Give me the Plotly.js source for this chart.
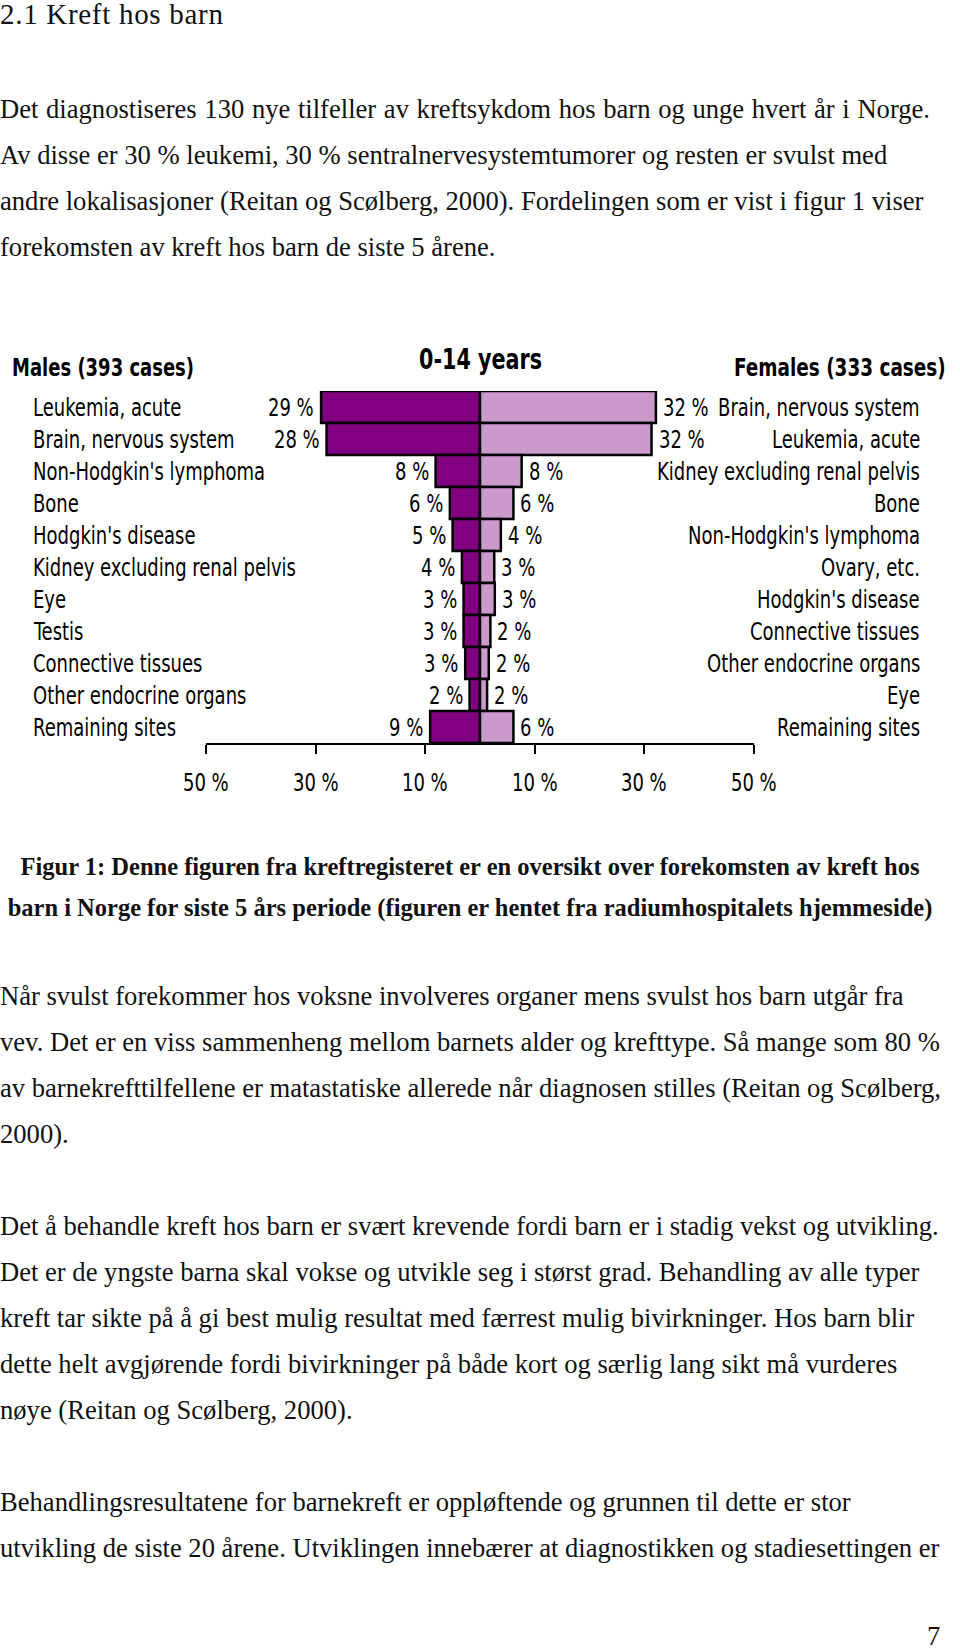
<!DOCTYPE html>
<html>
<head>
<meta charset="utf-8">
<script src="https://cdn.plot.ly/plotly-3.0.1.min.js"></script>
<style>
  html, body { margin:0; padding:0; background:#fff; }
  body { width:960px; height:1648px; position:relative; overflow:hidden; color:#111; }
  .t { position:absolute; left:0; font-family:"Liberation Serif","Times New Roman",serif; white-space:nowrap; }
  .body { font-size:26.6px; line-height:46px; }
  .line { display:block; }
  #chart { position:absolute; left:0; top:279px; width:960px; height:552px; }
  .cap { font-size:24.5px; line-height:41px; font-weight:bold; width:960px; text-align:center; }
  #chart .annotation-text { transform-box: fill-box; transform-origin: center; transform: scaleY(1.22); }
</style>
</head>
<body>
<div class="t" style="top:0px;font-size:29px;line-height:29px;letter-spacing:0.7px;">2.1 Kreft hos barn</div>

<div class="t body" style="top:86px;">
<span class="line" style="word-spacing:1px;">Det diagnostiseres 130 nye tilfeller av kreftsykdom hos barn og unge hvert år i Norge.</span>
<span class="line">Av disse er 30 % leukemi, 30 % sentralnervesystemtumorer og resten er svulst med</span>
<span class="line">andre lokalisasjoner (Reitan og Scølberg, 2000). Fordelingen som er vist i figur 1 viser</span>
<span class="line">forekomsten av kreft hos barn de siste 5 årene.</span>
</div>

<div id="chart"></div>

<div class="t cap" style="top:846px;left:-10px;">
<span class="line">Figur 1: Denne figuren fra kreftregisteret er en oversikt over forekomsten av kreft hos</span>
<span class="line">barn i Norge for siste 5 års periode (figuren er hentet fra radiumhospitalets hjemmeside)</span>
</div>

<div class="t body" style="top:973px;">
<span class="line">Når svulst forekommer hos voksne involveres organer mens svulst hos barn utgår fra</span>
<span class="line">vev. Det er en viss sammenheng mellom barnets alder og krefttype. Så mange som 80 %</span>
<span class="line">av barnekrefttilfellene er matastatiske allerede når diagnosen stilles (Reitan og Scølberg,</span>
<span class="line">2000).</span>
<span class="line">&nbsp;</span>
<span class="line">Det å behandle kreft hos barn er svært krevende fordi barn er i stadig vekst og utvikling.</span>
<span class="line">Det er de yngste barna skal vokse og utvikle seg i størst grad. Behandling av alle typer</span>
<span class="line">kreft tar sikte på å gi best mulig resultat med færrest mulig bivirkninger. Hos barn blir</span>
<span class="line">dette helt avgjørende fordi bivirkninger på både kort og særlig lang sikt må vurderes</span>
<span class="line">nøye (Reitan og Scølberg, 2000).</span>
<span class="line">&nbsp;</span>
<span class="line">Behandlingsresultatene for barnekreft er oppløftende og grunnen til dette er stor</span>
<span class="line">utvikling de siste 20 årene. Utviklingen innebærer at diagnostikken og stadiesettingen er</span>
</div>

<div class="t" style="top:1625px;left:927px;font-size:26.6px;line-height:22px;">7</div>

<script>
// ---- data ----
const chartTitle = "0-14 years";
const maleHeader = "Males (393 cases)";
const femaleHeader = "Females (333 cases)";

const maleCats = ["Leukemia, acute", "Brain, nervous system", "Non-Hodgkin's lymphoma", "Bone",
  "Hodgkin's disease", "Kidney excluding renal pelvis", "Eye", "Testis",
  "Connective tissues", "Other endocrine organs", "Remaining sites"];
const malePct = [29, 28, 8, 6, 5, 4, 3, 3, 3, 2, 9];
const maleBar = [29.0, 28.0, 8.1, 5.5, 5.0, 3.3, 3.0, 3.0, 2.7, 1.9, 9.1];

const femaleCats = ["Brain, nervous system", "Leukemia, acute", "Kidney excluding renal pelvis", "Bone",
  "Non-Hodgkin's lymphoma", "Ovary, etc.", "Hodgkin's disease", "Connective tissues",
  "Other endocrine organs", "Eye", "Remaining sites"];
const femalePct = [32, 32, 8, 6, 4, 3, 3, 2, 2, 2, 6];
const femaleBar = [32.1, 31.3, 7.6, 6.1, 3.8, 2.6, 2.7, 1.9, 1.6, 1.3, 6.1];

const tickVals = [-50, -30, -10, 10, 30, 50];
const tickText = ["50 %", "30 %", "10 %", "10 %", "30 %", "50 %"];

// ---- chart ----
const FONT = '"DejaVu Sans Condensed", "DejaVu Sans", sans-serif';
const rows = maleCats.map((_, i) => i);

const traces = [
  { type: 'bar', orientation: 'h', y: rows, x: maleBar.map(v => -v), width: 1,
    marker: { color: '#800080', line: { color: '#000', width: 2.5 } }, hoverinfo: 'skip' },
  { type: 'bar', orientation: 'h', y: rows, x: femaleBar, width: 1,
    marker: { color: '#cc99cc', line: { color: '#000', width: 2.5 } }, hoverinfo: 'skip' }
];

const ann = [];
const lab = { family: FONT, size: 20, color: '#000' };
rows.forEach(i => {
  ann.push({ xref: 'paper', yref: 'y', x: -0.3157, y: i, xshift: -2, text: maleCats[i], showarrow: false,
    xanchor: 'left', yanchor: 'middle', font: lab });
  ann.push({ xref: 'paper', yref: 'y', x: 1.3011, y: i, xshift: 3, text: femaleCats[i], showarrow: false,
    xanchor: 'right', yanchor: 'middle', font: lab });
  ann.push({ xref: 'x', yref: 'y', x: -maleBar[i], y: i, text: malePct[i] + ' %', showarrow: false,
    xanchor: 'right', yanchor: 'middle', xshift: -5, font: lab });
  ann.push({ xref: 'x', yref: 'y', x: femaleBar[i], y: i, text: femalePct[i] + ' %', showarrow: false,
    xanchor: 'left', yanchor: 'middle', xshift: 5, font: lab });
});
tickVals.forEach((v, i) => {
  ann.push({ xref: 'x', yref: 'paper', x: v, y: 0, yshift: -39, text: tickText[i], showarrow: false,
    xanchor: 'center', yanchor: 'middle', font: lab });
});
ann.push({ xref: 'paper', yref: 'paper', x: -0.354, y: 1, yshift: 24, xshift: -2, text: '<b>' + maleHeader + '</b>',
  showarrow: false, xanchor: 'left', yanchor: 'middle', font: { family: FONT, size: 20, color: '#000' } });
ann.push({ xref: 'paper', yref: 'paper', x: 1.348, y: 1, yshift: 24, xshift: 3, text: '<b>' + femaleHeader + '</b>',
  showarrow: false, xanchor: 'right', yanchor: 'middle', font: { family: FONT, size: 20.5, color: '#000' } });
ann.push({ xref: 'paper', yref: 'paper', x: 0.5, y: 1, yshift: 32, text: '<b>' + chartTitle + '</b>',
  showarrow: false, xanchor: 'center', yanchor: 'middle', font: { family: FONT, size: 23, color: '#000' } });

const layout = {
  width: 960, height: 552,
  margin: { l: 206, r: 206, t: 112, b: 88 },
  paper_bgcolor: '#fff', plot_bgcolor: '#fff',
  barmode: 'overlay', bargap: 0,
  showlegend: false,
  xaxis: { range: [-50, 50], showgrid: false, zeroline: false, showline: true, linecolor: '#000',
    linewidth: 2, ticks: 'outside', ticklen: 9, tickwidth: 2, tickcolor: '#000',
    tickvals: tickVals, showticklabels: false, fixedrange: true },
  yaxis: { range: [10.5, -0.5], visible: false, fixedrange: true },
  annotations: ann
};
Plotly.newPlot('chart', traces, layout, { staticPlot: true, displayModeBar: false });
</script>
</body>
</html>
